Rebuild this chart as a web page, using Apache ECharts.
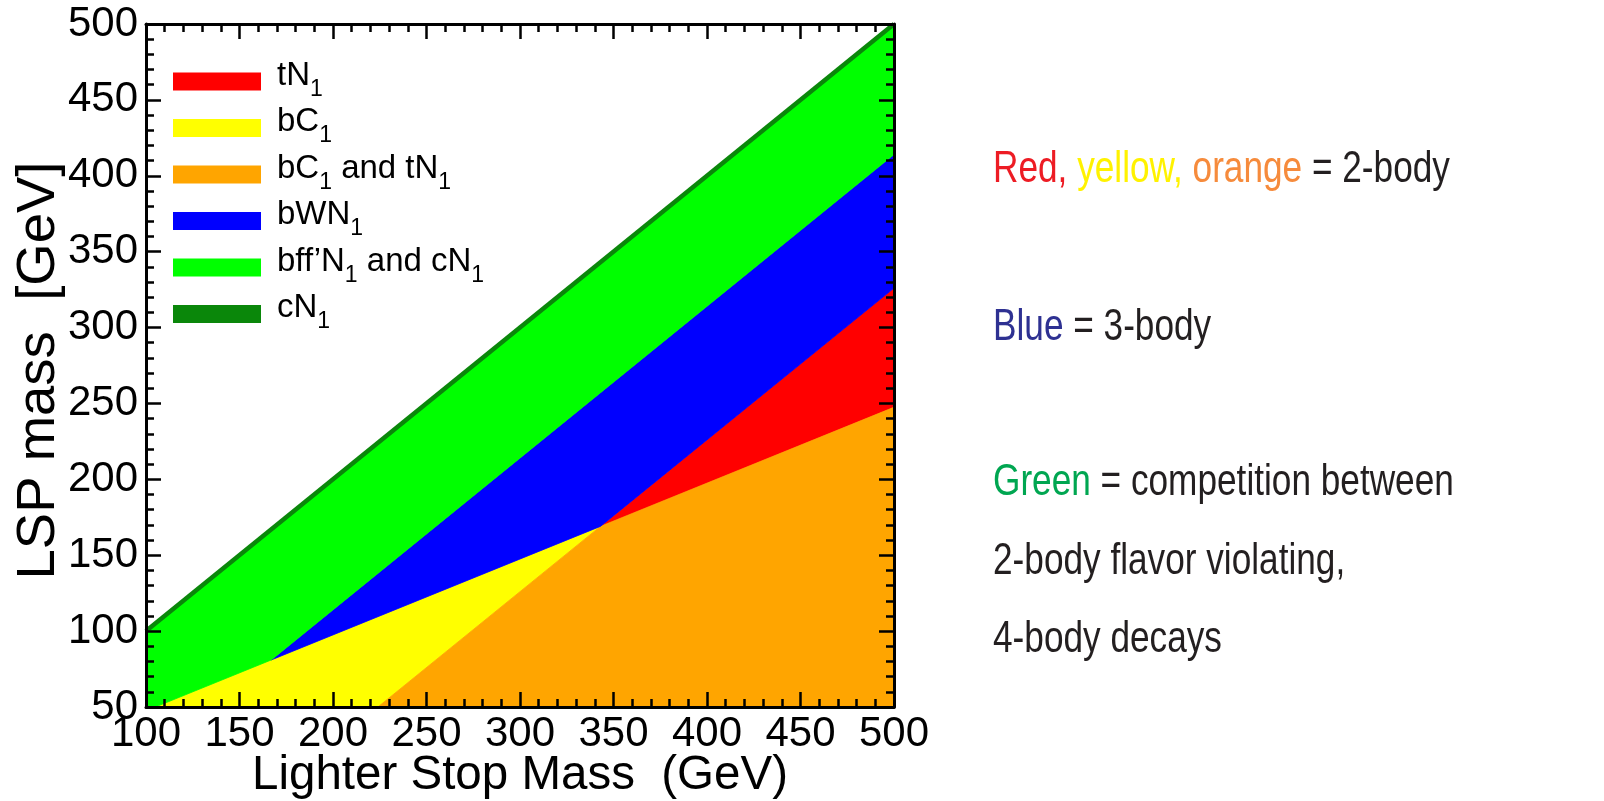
<!DOCTYPE html>
<html><head><meta charset="utf-8">
<script src="https://cdn.jsdelivr.net/npm/echarts@6/dist/echarts.min.js"></script>
<style>html,body{margin:0;padding:0;background:#fff}#c{width:1604px;height:801px}</style>
</head><body><div id="c"></div><script>
const FONT = 'Liberation Sans, Arial, Helvetica, sans-serif';

// axis ranges (GeV)
const xRange = [100, 500];
const yRange = [50, 500];
const tickStep = 50;

// legend names (in order)
const regionNames = ['tN1', 'bC1', 'bC1 and tN1', 'bWN1', 'bff\u2019N1 and cN1', 'cN1'];
const regionColors = ['#ff0000', '#ffff00', '#ffa500', '#0000ff', '#00ff00', '#0a870a'];

// region vertices [stop mass, LSP mass]
const redRegion    = [[343, 169], [500, 326], [500, 247.5]];
const yellowRegion = [[105, 50], [167, 81], [343, 169], [224, 50]];
const orangeRegion = [[224, 50], [343, 169], [500, 247.5], [500, 50]];
const blueRegion   = [[167, 81], [343, 169], [500, 326], [500, 414]];
const greenRegion  = [[100, 50], [105, 50], [167, 81], [500, 414], [500, 500], [100, 100]];
const cN1Line      = [[100, 100], [500, 500]];

// annotation text lines
const noteLines = [
  [['Red, ', 'r'], ['yellow, ', 'y'], ['orange', 'o'], [' = 2-body', 'k']],
  [['Blue', 'b'], [' = 3-body', 'k']],
  [['Green', 'g'], [' = competition between', 'k']],
  [['2-body flavor violating,', 'k']],
  [['4-body decays', 'k']]
];

const chart = echarts.init(document.getElementById('c'), null, {renderer: 'canvas'});

function polySeries(name, color, pts) {
  return {
    name: name, type: 'custom', coordinateSystem: 'cartesian2d',
    data: pts, encode: {x: 0, y: 1},
    itemStyle: {color: color}, color: color,
    silent: true, animation: false, z: 2,
    renderItem: function (params, api) {
      if (params.dataIndex !== 0) return null;
      const points = pts.map(function (p) { return api.coord(p); });
      return {type: 'polygon', shape: {points: points},
        style: {fill: color, stroke: color, lineWidth: 0.8}};
    }
  };
}

function legendFmt(name) {
  const parts = name.split('1');
  let out = '';
  parts.forEach(function (p, i) {
    if (p) out += '{' + (i === 0 ? 'f' : 'm') + '|' + p + '}';
    if (i < parts.length - 1) out += '{s|1}';
  });
  return out;
}

const tickLine = {color: '#000', width: 2.5};
function xAx(pos, labels) {
  return {
    type: 'value', min: xRange[0], max: xRange[1], interval: tickStep, position: pos, z: 5,
    axisLine: {show: true, onZero: false, lineStyle: {color: '#000', width: 3}},
    axisTick: {show: true, inside: true, length: 15, lineStyle: tickLine},
    minorTick: {show: true, splitNumber: 5, length: 8, lineStyle: tickLine},
    splitLine: {show: false}, minorSplitLine: {show: false},
    axisLabel: {show: labels, fontSize: 42, color: '#000', fontFamily: FONT, margin: 6},
    name: labels ? 'Lighter Stop Mass  (GeV)' : '', nameLocation: 'middle', nameGap: 45,
    nameMoveOverlap: false,
    nameTextStyle: {fontSize: 47.5, color: '#000', fontFamily: FONT}
  };
}
function yAx(pos, labels) {
  return {
    type: 'value', min: yRange[0], max: yRange[1], interval: tickStep, position: pos, z: 5,
    axisLine: {show: true, onZero: false, lineStyle: {color: '#000', width: 3}},
    axisTick: {show: true, inside: true, length: 15, lineStyle: tickLine},
    minorTick: {show: true, splitNumber: 5, length: 8, lineStyle: tickLine},
    splitLine: {show: false}, minorSplitLine: {show: false},
    axisLabel: {show: labels, fontSize: 42, color: '#000', fontFamily: FONT, margin: 8},
    name: labels ? 'LSP mass  [GeV]' : '', nameLocation: 'middle', nameGap: 80,
    nameMoveOverlap: false,
    nameTextStyle: {fontSize: 54.5, color: '#000', fontFamily: FONT, padding: [0, 10, 0, 0]}
  };
}

const noteColors = {r: '#ed1c24', y: '#fff200', o: '#f68b3c', k: '#231f20', b: '#2e3192', g: '#00a651'};
const noteRich = {};
Object.keys(noteColors).forEach(function (k) {
  noteRich[k] = {fill: noteColors[k], fontSize: 44, fontFamily: FONT};
});
const noteY = [169.6, 327.6, 482.6, 561.6, 639.6];
const graphic = noteLines.map(function (line, i) {
  return {
    type: 'text', x: 993, y: noteY[i], scaleX: 0.8, silent: true,
    style: {
      text: line.map(function (seg) { return '{' + seg[1] + '|' + seg[0] + '}'; }).join(''),
      rich: noteRich, fontSize: 44, fontFamily: FONT,
      textAlign: 'left', textVerticalAlign: 'middle'
    }
  };
});

const option = {
  backgroundColor: '#fff',
  animation: false,
  grid: {left: 146, top: 24, right: 710, bottom: 94, containLabel: false, outerBoundsMode: 'none'},
  xAxis: [xAx('bottom', true), xAx('top', false)],
  yAxis: [yAx('left', true), yAx('right', false)],
  legend: {
    data: regionNames, orient: 'vertical', left: 173, top: 59, padding: 0,
    itemGap: 4, itemWidth: 88, itemHeight: 18, icon: 'rect', selectedMode: false,
    itemStyle: {borderWidth: 0},
    formatter: legendFmt,
    textStyle: {
      fontFamily: FONT, color: '#000', fontSize: 33,
      rich: {
        f: {fontSize: 33, fontFamily: FONT, color: '#000', height: 28, lineHeight: 40, verticalAlign: 'top', padding: [0, 0, 0, 11]},
        m: {fontSize: 33, fontFamily: FONT, color: '#000', height: 28, lineHeight: 40, verticalAlign: 'top'},
        s: {fontSize: 23, fontFamily: FONT, color: '#000', height: 24, lineHeight: 40, verticalAlign: 'bottom'}
      }
    }
  },
  series: [
    polySeries(regionNames[0], regionColors[0], redRegion),
    polySeries(regionNames[1], regionColors[1], yellowRegion),
    polySeries(regionNames[2], regionColors[2], orangeRegion),
    polySeries(regionNames[3], regionColors[3], blueRegion),
    polySeries(regionNames[4], regionColors[4], greenRegion),
    {
      name: regionNames[5], type: 'line', data: cN1Line, symbol: 'none', z: 3,
      color: regionColors[5], itemStyle: {color: regionColors[5]},
      lineStyle: {color: regionColors[5], width: 4.5}, silent: true, animation: false
    }
  ],
  graphic: graphic
};
chart.setOption(option);
</script></body></html>
